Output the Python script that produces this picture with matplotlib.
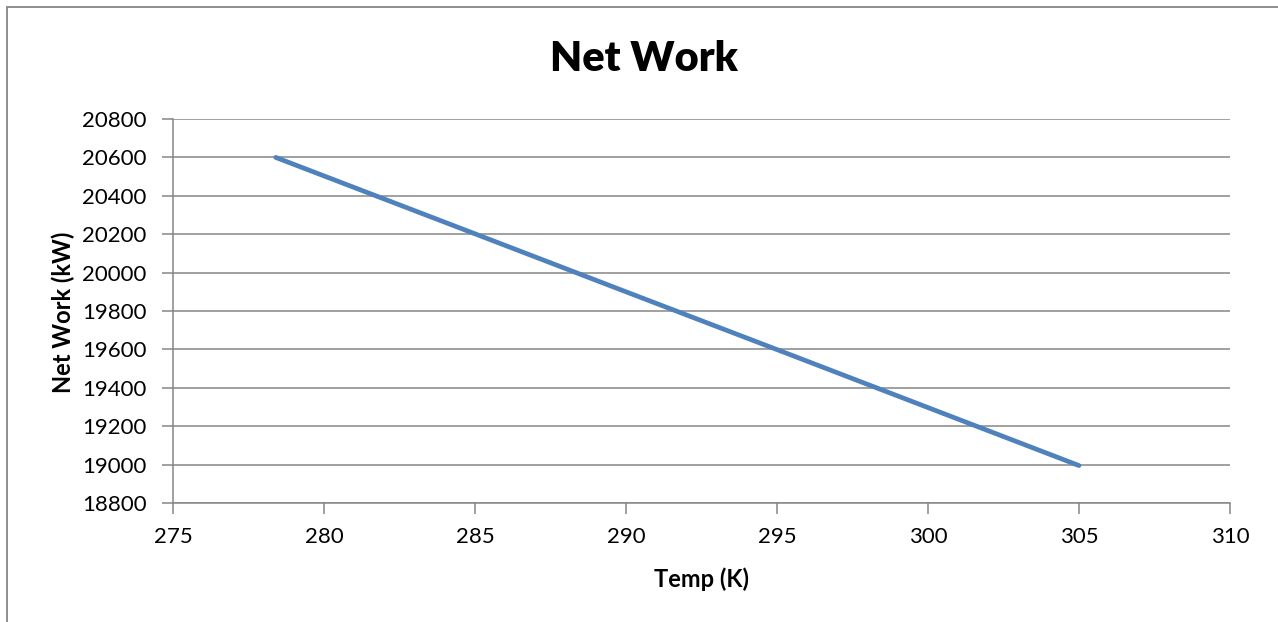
import matplotlib.pyplot as plt
from matplotlib.patches import Rectangle

# data
temp = [278.4, 285, 290, 295, 300, 305]
net_work = [20600, 20202, 19900, 19599, 19297, 18995]

x_ticks = [275, 280, 285, 290, 295, 300, 305, 310]
y_ticks = [18800, 19000, 19200, 19400, 19600, 19800, 20000, 20200, 20400, 20600, 20800]

plt.rcParams['font.family'] = ['Lato', 'DejaVu Sans']

fig = plt.figure(figsize=(12.78, 6.22), dpi=100)
ax = fig.add_axes([173 / 1278, 1 - 503 / 622, (1230 - 173) / 1278, (503 - 119) / 622])

# outer chart frame (only top and left edges show in the picture)
fig.patches.append(Rectangle((7 / 1278, -0.1), 1.2, 1 - 7 / 622 + 0.1,
                             transform=fig.transFigure, fill=False,
                             edgecolor='#868686', linewidth=1.3))

ax.plot(temp, net_work, color='#4F81BD', linewidth=3.4, solid_capstyle='round')

ax.set_xlim(275, 310)
ax.set_ylim(18800, 20800)
ax.set_xticks(x_ticks)
ax.set_yticks(y_ticks)
ax.grid(axis='y', color='#868686', linewidth=1.1)
ax.set_axisbelow(True)

for s in ['top', 'right']:
    ax.spines[s].set_visible(False)
for s in ['left', 'bottom']:
    ax.spines[s].set_color('#868686')
    ax.spines[s].set_linewidth(1.1)

ax.tick_params(axis='both', direction='out', length=8, width=1.1, color='#868686',
               labelsize=16, labelcolor='black')
ax.tick_params(axis='x', pad=9)
ax.tick_params(axis='y', pad=11)

fig.text(644 / 1278, 1 - 59 / 622, 'Net Work', ha='center', va='center',
         fontsize=30, fontweight='heavy')
fig.text(701 / 1278, 1 - 579 / 622, 'Temp (K)', ha='center', va='center',
         fontsize=17, fontweight='bold')
fig.text(63 / 1278, 1 - 312 / 622, 'Net Work (kW)', ha='center', va='center',
         rotation=90, fontsize=17, fontweight='bold')

fig.savefig('out.png', dpi=100)
